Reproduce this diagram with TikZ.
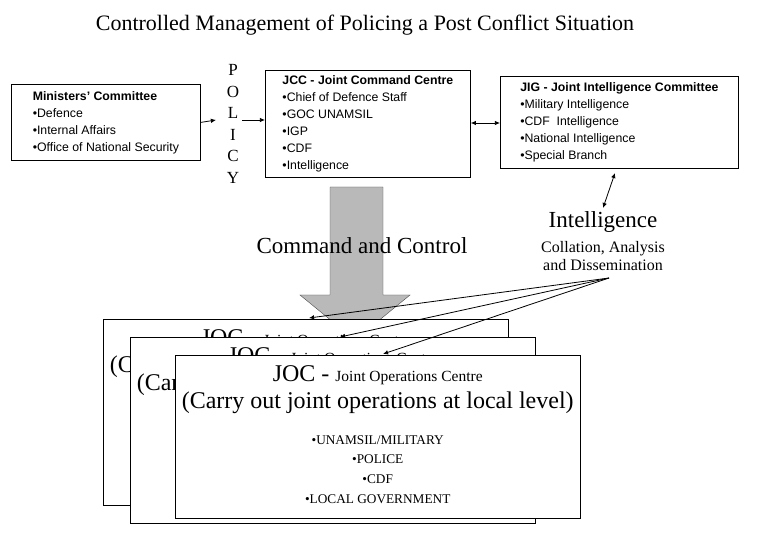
\documentclass[tikz,border=0pt]{standalone}
\usepackage{fontspec}
\setmainfont{Liberation Serif}
\setsansfont{Liberation Sans}
\usetikzlibrary{arrows.meta,positioning}
\tikzset{%
  >={Latex[width=1.6mm,length=1.8mm]},
  % Specifications for style of nodes:
      panel/.style = {rectangle, draw=black, fill=white, thick, align=left,
                      inner sep=4pt, font=\sffamily\fontsize{12.3}{17}\selectfont},
   jocbox/.style = {rectangle, draw=black, fill=white, minimum width=405,
                    anchor=north west},
  joctext/.style = {align=center, inner sep=0pt},
   serifl/.style = {font=\fontsize{23}{26}\selectfont},
}
\begin{document}
\begin{tikzpicture}[x=1pt,y=-1pt]
  \useasboundingbox (0,0) rectangle (780,540);
  \node (title) at (365,25) [font=\fontsize{22}{24}\selectfont] {Controlled Management of Policing a Post Conflict Situation};

  % Specification of top boxes
  \node (ministers) [panel, minimum width=189, minimum height=76, anchor=north west] at (11,84)
    {\textbf{Ministers' Committee}\\ •Defence\\ •Internal Affairs\\ •Office of National Security};
  \node (jcc) [panel, minimum width=205, minimum height=107, anchor=north west] at (265,70)
    {\textbf{JCC - Joint Command Centre}\\ •Chief of Defence Staff\\ •GOC UNAMSIL\\ •IGP\\ •CDF\\ •Intelligence};
  \node (jig) [panel, minimum width=238, minimum height=92, anchor=north west] at (500,76)
    {\textbf{JIG - Joint Intelligence Committee}\\ •Military Intelligence\\ •CDF~~Intelligence\\ •National Intelligence\\ •Special Branch};
  \node (policy) at (233,124) [align=center, font=\fontsize{17}{21.6}\selectfont] {P\\O\\L\\I\\C\\Y};

  % Big arrow
  \draw[draw=gray!60!black, fill=gray!55] (330,187) -- (383,187) -- (383,295) -- (410,295)
    -- (355,340) -- (300,295) -- (330,295) -- cycle;
  \node (command) at (362,246) [serifl] {Command and Control};

  \node (intel) at (603,222) [serifl] {Intelligence};
  \node (collation) at (603,256) [align=center, inner sep=0pt,
    font=\fontsize{16}{18}\selectfont] {Collation, Analysis\\and Dissemination};
  \coordinate (hub) at (609,278);

  % Specification of JOC boxes
  \foreach \i/\x/\y/\h in {1/103/319/186, 2/130/337/186, 3/175/355/163} {
    \node (joc\i) [jocbox, minimum height=\h] at (\x,\y) {};
    \node (head\i) [joctext, yshift=-20pt] at (joc\i.north) {\fontsize{24}{26}\selectfont JOC - {\fontsize{15.5}{17}\selectfont Joint Operations Centre}};
    \node (aim\i) [joctext, yshift=-48pt, font=\fontsize{24}{26}\selectfont] at (joc\i.north) {(Carry out joint operations at local level)};
    \node (list\i) [joctext, anchor=north, yshift=-80pt, font=\fontsize{13.3}{19.7}\selectfont] at (joc\i.north) {•UNAMSIL/MILITARY\\ •POLICE\\ •CDF\\ •LOCAL GOVERNMENT};
  }

  % Specification of lines between nodes
  \draw[->, thick] (ministers.east) -- (216,120);
  \draw[->, thick] (242,120) -- (jcc.west |- 0,120);
  \draw[<->, thick] (jcc.east |- 0,123) -- (jig.west |- 0,123);
  \draw[<->, thick] (615,173) -- (intel.north);
  \draw[->, thick] (hub) -- (309,318);
  \draw[->, thick] (hub) -- (340,337);
  \draw[->, thick] (hub) -- (383,354);
\end{tikzpicture}
\end{document}
